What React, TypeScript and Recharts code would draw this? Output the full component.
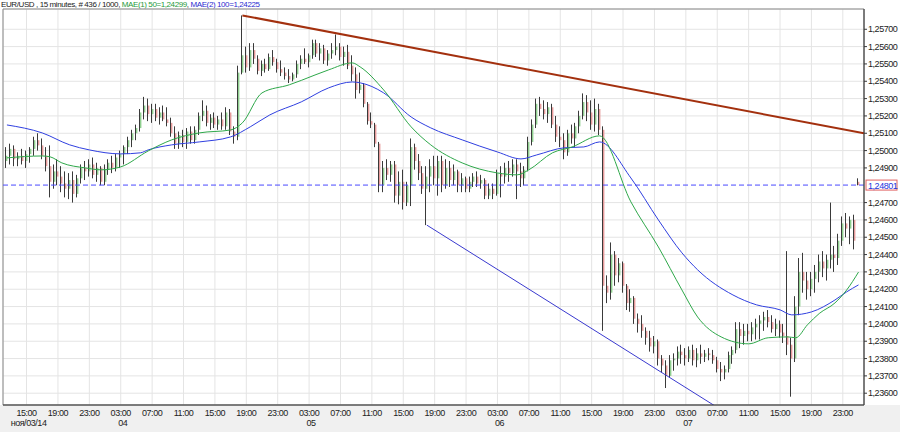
import React from "react"
import {
  ComposedChart,
  CartesianGrid,
  XAxis,
  YAxis,
  Bar,
  Line,
  ReferenceLine,
  ReferenceArea,
} from "recharts"

// bars are 30-min OHLC, t = hours since 03 Nov 00:00
type OHLC = [number, number, number, number]

const FIRST_T = 12.5
const STEP = 0.5

const nov03: OHLC[] = [
  [1.2494, 1.2502, 1.249, 1.2497], [1.2497, 1.2504, 1.2492, 1.2501], [1.2501, 1.2503, 1.2491, 1.2495],
  [1.2495, 1.2499, 1.2491, 1.2497], [1.2497, 1.2501, 1.2492, 1.2494], [1.2494, 1.25, 1.249, 1.2498],
  [1.2498, 1.2502, 1.2493, 1.2501], [1.2501, 1.2508, 1.2497, 1.2506], [1.2506, 1.251, 1.25, 1.2503],
  [1.2503, 1.2507, 1.2495, 1.2497], [1.2497, 1.2502, 1.2488, 1.2491], [1.2491, 1.2503, 1.2473, 1.2482],
  [1.2482, 1.2492, 1.2478, 1.2488], [1.2488, 1.2495, 1.248, 1.2485], [1.2485, 1.2491, 1.2476, 1.2481],
  [1.2481, 1.2488, 1.2473, 1.2478], [1.2478, 1.2487, 1.2472, 1.2483], [1.2483, 1.2488, 1.247, 1.2475],
  [1.2475, 1.2486, 1.2473, 1.2484], [1.2484, 1.2492, 1.2481, 1.249], [1.249, 1.2494, 1.2483, 1.2488],
  [1.2488, 1.2495, 1.2485, 1.2492], [1.2492, 1.2496, 1.2484, 1.2486],
]

const nov04: OHLC[] = [
  [1.2486, 1.2493, 1.2482, 1.249], [1.249, 1.2491, 1.248, 1.2482], [1.2482, 1.2492, 1.248, 1.2489],
  [1.2489, 1.2495, 1.2486, 1.2493], [1.2493, 1.2497, 1.2487, 1.249], [1.249, 1.2498, 1.2488, 1.2496],
  [1.2496, 1.25, 1.249, 1.2498], [1.2498, 1.2503, 1.2492, 1.2502], [1.2502, 1.2508, 1.2498, 1.2506],
  [1.2506, 1.2512, 1.2502, 1.251], [1.251, 1.2515, 1.2506, 1.2513], [1.2513, 1.2524, 1.2511, 1.2522],
  [1.2522, 1.2531, 1.2518, 1.2526], [1.2526, 1.253, 1.2517, 1.2521], [1.2521, 1.2527, 1.2516, 1.2524],
  [1.2524, 1.2527, 1.2517, 1.2519], [1.2519, 1.2525, 1.2515, 1.2522], [1.2522, 1.2526, 1.2517, 1.2518],
  [1.2518, 1.2525, 1.2514, 1.2516], [1.2516, 1.2519, 1.2508, 1.251], [1.251, 1.2514, 1.2501, 1.2504],
  [1.2504, 1.2511, 1.2501, 1.2509], [1.2509, 1.2512, 1.2502, 1.2505], [1.2505, 1.2513, 1.2501, 1.2511],
  [1.2511, 1.2514, 1.2504, 1.2506], [1.2506, 1.2514, 1.2504, 1.2512], [1.2512, 1.2522, 1.2509, 1.252],
  [1.252, 1.2529, 1.2517, 1.2523], [1.2523, 1.2526, 1.2514, 1.2516], [1.2516, 1.2521, 1.2512, 1.2519],
  [1.2519, 1.2522, 1.2513, 1.2515], [1.2515, 1.252, 1.2512, 1.2518], [1.2518, 1.2522, 1.2512, 1.2514],
  [1.2514, 1.2525, 1.2512, 1.2522], [1.2522, 1.2524, 1.2509, 1.2511], [1.2511, 1.2514, 1.2504, 1.2508],
  [1.2508, 1.2549, 1.2506, 1.2545], [1.2545, 1.2578, 1.2544, 1.2555], [1.2555, 1.256, 1.2545, 1.2548],
  [1.2548, 1.2562, 1.2546, 1.2558], [1.2558, 1.2562, 1.255, 1.2553], [1.2553, 1.2555, 1.2544, 1.2546],
  [1.2546, 1.2552, 1.2543, 1.255], [1.255, 1.2553, 1.2545, 1.2547], [1.2547, 1.2556, 1.2546, 1.2554],
  [1.2554, 1.2558, 1.2549, 1.2551], [1.2551, 1.2553, 1.2545, 1.2547], [1.2547, 1.2552, 1.2543, 1.2545],
]

const nov05: OHLC[] = [
  [1.2545, 1.2548, 1.2541, 1.2543], [1.2543, 1.2547, 1.2539, 1.2541], [1.2541, 1.2545, 1.254, 1.2544],
  [1.2544, 1.2552, 1.2542, 1.255], [1.255, 1.2555, 1.2547, 1.2553], [1.2553, 1.2559, 1.255, 1.2551],
  [1.2551, 1.2556, 1.2548, 1.2555], [1.2555, 1.2564, 1.2553, 1.2562], [1.2562, 1.2564, 1.2554, 1.2556],
  [1.2556, 1.2562, 1.2552, 1.2559], [1.2559, 1.2561, 1.255, 1.2552], [1.2552, 1.2558, 1.2549, 1.2556],
  [1.2556, 1.2562, 1.2553, 1.2558], [1.2558, 1.2567, 1.2555, 1.256], [1.256, 1.2562, 1.2552, 1.2554],
  [1.2554, 1.256, 1.2549, 1.2557], [1.2557, 1.2561, 1.2547, 1.2549], [1.2549, 1.2555, 1.254, 1.2544],
  [1.2544, 1.2548, 1.253, 1.2535], [1.2535, 1.2545, 1.2533, 1.2538], [1.2538, 1.2539, 1.2525, 1.2527],
  [1.2527, 1.2528, 1.2515, 1.2517], [1.2517, 1.2522, 1.2513, 1.2515], [1.2515, 1.2516, 1.2502, 1.2504],
  [1.2504, 1.2505, 1.2476, 1.248], [1.248, 1.2494, 1.2476, 1.249], [1.249, 1.2495, 1.2483, 1.2486],
  [1.2486, 1.2494, 1.2482, 1.2492], [1.2492, 1.2494, 1.247, 1.2474], [1.2474, 1.2488, 1.2469, 1.2482],
  [1.2482, 1.2489, 1.2466, 1.247], [1.247, 1.2482, 1.2468, 1.248], [1.248, 1.2507, 1.2468, 1.2502],
  [1.2502, 1.2504, 1.2489, 1.2494], [1.2494, 1.2498, 1.2483, 1.2487], [1.2487, 1.2491, 1.2475, 1.2478],
  [1.2478, 1.2491, 1.2457, 1.2485], [1.2485, 1.2495, 1.2476, 1.2491], [1.2491, 1.2497, 1.248, 1.2484],
  [1.2484, 1.2497, 1.2474, 1.2494], [1.2494, 1.2497, 1.2476, 1.248], [1.248, 1.2495, 1.2478, 1.249],
  [1.249, 1.2494, 1.2479, 1.2483], [1.2483, 1.2492, 1.248, 1.2488], [1.2488, 1.2489, 1.2476, 1.248],
  [1.248, 1.2487, 1.2476, 1.2484], [1.2484, 1.2485, 1.2476, 1.2478], [1.2478, 1.2485, 1.2476, 1.2482],
]

const nov06: OHLC[] = [
  [1.2482, 1.2487, 1.2479, 1.2485], [1.2485, 1.2488, 1.2479, 1.2481], [1.2481, 1.2486, 1.2478, 1.2483],
  [1.2483, 1.2484, 1.2472, 1.2474], [1.2474, 1.2481, 1.2472, 1.2478], [1.2478, 1.2481, 1.2472, 1.2475],
  [1.2475, 1.2489, 1.2474, 1.2487], [1.2487, 1.2491, 1.2473, 1.2485], [1.2485, 1.2493, 1.2481, 1.249],
  [1.249, 1.2494, 1.2482, 1.2487], [1.2487, 1.2495, 1.2485, 1.2492], [1.2492, 1.2495, 1.2472, 1.2488],
  [1.2488, 1.2493, 1.2479, 1.2484], [1.2484, 1.2491, 1.248, 1.2489], [1.2489, 1.2508, 1.2488, 1.2505],
  [1.2505, 1.2518, 1.2503, 1.2515], [1.2515, 1.253, 1.2513, 1.2527], [1.2527, 1.2531, 1.252, 1.2524],
  [1.2524, 1.2529, 1.2518, 1.2521], [1.2521, 1.2528, 1.2516, 1.2525], [1.2525, 1.2527, 1.2513, 1.2515],
  [1.2515, 1.252, 1.2505, 1.2508], [1.2508, 1.2514, 1.2502, 1.2506], [1.2506, 1.251, 1.2495, 1.2499],
  [1.2499, 1.2512, 1.2497, 1.251], [1.251, 1.2515, 1.2504, 1.2507], [1.2507, 1.2516, 1.2502, 1.2514],
  [1.2514, 1.2523, 1.251, 1.252], [1.252, 1.2533, 1.2518, 1.2528], [1.2528, 1.2532, 1.2517, 1.2522],
  [1.2522, 1.2529, 1.2512, 1.2515], [1.2515, 1.253, 1.2511, 1.2524], [1.2524, 1.2527, 1.2509, 1.2512],
  [1.2512, 1.2514, 1.2396, 1.2422], [1.2422, 1.2428, 1.2412, 1.2418], [1.2418, 1.2447, 1.2414, 1.244],
  [1.244, 1.2442, 1.2422, 1.2428], [1.2428, 1.2438, 1.2424, 1.2435], [1.2435, 1.2436, 1.2418, 1.2422],
  [1.2422, 1.2423, 1.2408, 1.2412], [1.2412, 1.242, 1.2407, 1.2415], [1.2415, 1.2416, 1.24, 1.2403],
  [1.2403, 1.2406, 1.2395, 1.24], [1.24, 1.2405, 1.2392, 1.2396], [1.2396, 1.2398, 1.2388, 1.2392],
  [1.2392, 1.2396, 1.2384, 1.2387], [1.2387, 1.2393, 1.2383, 1.239], [1.239, 1.2391, 1.2376, 1.238],
]

const nov07: OHLC[] = [
  [1.238, 1.2382, 1.2372, 1.2376], [1.2376, 1.2379, 1.2363, 1.237], [1.237, 1.2382, 1.2369, 1.2379],
  [1.2379, 1.2383, 1.2373, 1.238], [1.238, 1.2387, 1.2376, 1.2384], [1.2384, 1.2388, 1.2377, 1.2382],
  [1.2382, 1.2386, 1.2376, 1.238], [1.238, 1.2387, 1.2378, 1.2385], [1.2385, 1.2388, 1.2376, 1.2379],
  [1.2379, 1.2386, 1.2375, 1.2383], [1.2383, 1.2388, 1.2377, 1.2381], [1.2381, 1.2385, 1.2378, 1.2383],
  [1.2383, 1.2386, 1.2379, 1.2382], [1.2382, 1.2385, 1.2377, 1.2379], [1.2379, 1.2381, 1.2372, 1.2374],
  [1.2374, 1.2378, 1.2367, 1.2372], [1.2372, 1.2376, 1.2368, 1.2374], [1.2374, 1.2384, 1.2372, 1.2382],
  [1.2382, 1.2387, 1.2377, 1.2385], [1.2385, 1.2401, 1.2383, 1.2397], [1.2397, 1.2401, 1.2386, 1.2393],
  [1.2393, 1.24, 1.2388, 1.2396], [1.2396, 1.24, 1.239, 1.2394], [1.2394, 1.2401, 1.239, 1.2398],
  [1.2398, 1.2403, 1.2391, 1.24], [1.24, 1.2405, 1.2391, 1.2402], [1.2402, 1.2407, 1.2396, 1.2404],
  [1.2404, 1.2408, 1.2398, 1.2401], [1.2401, 1.2405, 1.2395, 1.2397], [1.2397, 1.2403, 1.2393, 1.24],
  [1.24, 1.2402, 1.2392, 1.2395], [1.2395, 1.24, 1.2389, 1.2393], [1.2393, 1.2442, 1.2382, 1.2388],
  [1.2388, 1.2392, 1.2358, 1.238], [1.238, 1.2416, 1.2378, 1.241], [1.241, 1.2438, 1.2405, 1.243],
  [1.243, 1.2441, 1.2418, 1.2425], [1.2425, 1.243, 1.2414, 1.242], [1.242, 1.243, 1.2416, 1.2426],
  [1.2426, 1.2434, 1.2418, 1.243], [1.243, 1.244, 1.2424, 1.2436], [1.2436, 1.2442, 1.2427, 1.2432],
  [1.2432, 1.244, 1.2425, 1.2437], [1.2437, 1.247, 1.2432, 1.244], [1.244, 1.2445, 1.243, 1.2438],
  [1.2438, 1.2452, 1.2434, 1.2448], [1.2448, 1.2462, 1.2445, 1.2458], [1.2458, 1.2464, 1.245, 1.2455],
]

const nov08: OHLC[] = [
  [1.2455, 1.2462, 1.2446, 1.246], [1.246, 1.2463, 1.2443, 1.2448], [1.2482, 1.2484, 1.248, 1.24801],
]

// moving averages: [bar index, value]
const mae50: [number, number][] = [
  [0, 1.24958], [9, 1.24969], [11, 1.24964], [14, 1.24929], [20, 1.249], [24, 1.24889],
  [29, 1.24906], [36, 1.24998], [42, 1.25062], [49, 1.25102], [57, 1.25119], [60, 1.2516],
  [65, 1.25333], [72, 1.2538], [75, 1.25405], [82, 1.25466], [88, 1.25506], [90, 1.25483],
  [96, 1.2535], [103, 1.25137], [108, 1.25033], [116, 1.24929], [125, 1.24871], [130, 1.2486],
  [133, 1.24889], [139, 1.24987], [144, 1.25021], [151, 1.25085], [159, 1.24704], [166, 1.24444],
  [172, 1.24196], [176, 1.2404], [182, 1.23925], [189, 1.23885], [194, 1.2392], [199, 1.23925],
  [201, 1.2392], [204, 1.23995], [207, 1.2406], [211, 1.24121], [214, 1.24196], [217, 1.24299],
]

const mae100: [number, number][] = [
  [0, 1.25148], [9, 1.25102], [16, 1.25033], [21, 1.25004], [29, 1.24981], [34, 1.24987],
  [36, 1.25004], [42, 1.25033], [49, 1.2505], [57, 1.25079], [62, 1.25137], [67, 1.25206],
  [75, 1.25281], [82, 1.25362], [88, 1.25396], [90, 1.25391], [96, 1.25333], [103, 1.25194],
  [108, 1.25131], [116, 1.25062], [125, 1.24992], [131, 1.24952], [135, 1.24975], [142, 1.25016],
  [147, 1.25021], [151, 1.2505], [159, 1.24842], [166, 1.246], [172, 1.2441], [176, 1.24312],
  [185, 1.24167], [191, 1.2411], [197, 1.24081], [200, 1.24052], [205, 1.24069], [211, 1.24138],
  [214, 1.24185], [217, 1.24225],
]

// trend lines [t, price]
const resistance: [number, number][] = [[42.5, 1.2578], [121.7, 1.251]]
const support: [number, number][] = [[66, 1.2457], [104, 1.2349]]
const lastPrice = 1.24801

const xTicks = [15, 19, 23, 27, 31, 35, 39, 43, 47, 51, 55, 59, 63, 67, 71, 75, 79, 83, 87, 91, 95, 99, 103, 107, 111, 115, 119]
const dayLabels: Record<number, string> = { 15: "ноя/03/14", 27: "04", 51: "05", 75: "06", 99: "07" }
const yTicks = [
  1.236, 1.237, 1.238, 1.239, 1.24, 1.241, 1.242, 1.243, 1.244, 1.245, 1.246, 1.247,
  1.249, 1.25, 1.251, 1.252, 1.253, 1.254, 1.255, 1.256, 1.257,
]

const X_DOMAIN: [number, number] = [12, 121.7]
const Y_DOMAIN: [number, number] = [1.23532, 1.25817]
const FONT = "Tahoma, 'Liberation Sans', Arial, sans-serif"
const TIGHT = -0.45

type Row = {
  t: number
  range: [number, number]
  o: number
  h: number
  l: number
  c: number
  ma50: number | null
  ma100: number | null
}

const bars = [...nov03, ...nov04, ...nov05, ...nov06, ...nov07, ...nov08]
const rows: Row[] = bars.map(([o, h, l, c], i) => ({
  t: FIRST_T + i * STEP,
  range: [l, h],
  o, h, l, c,
  ma50: null,
  ma100: null,
}))
mae50.forEach(([i, v]) => (rows[i].ma50 = v))
mae100.forEach(([i, v]) => (rows[i].ma100 = v))

const fmtPrice = (v: number) => v.toFixed(5).replace(".", ",")

const Candle = (props: any) => {
  const { x, y, width, height, payload } = props
  if (!payload || y == null) return null
  const { o, h, l, c } = payload as Row
  const span = h - l || 1e-9
  const py = (v: number) => y + ((h - v) / span) * height
  const cx = Math.round(x + width / 2)
  const top = py(Math.max(o, c))
  const bot = py(Math.min(o, c))
  const up = c >= o
  return (
    <g>
      <rect x={cx - 1} y={y} width={1} height={Math.max(1, height)} fill="#3a3a3a" />
      <rect x={cx} y={top} width={1.4} height={Math.max(1, bot - top)} fill={up ? "#8fcf8f" : "#e79a9a"} />
    </g>
  )
}

const TimeTick = (props: any) => {
  const { x, y, payload } = props
  const t = payload.value as number
  const hh = String(t % 24).padStart(2, "0")
  const day = dayLabels[t]
  return (
    <g fontFamily={FONT} fontSize={9} fill="#222" letterSpacing={TIGHT}>
      <text x={x} y={y} dy={7} textAnchor="middle">{`${hh}:00`}</text>
      {day && (
        <text x={x + 2} y={y} dy={17} textAnchor="middle">{day}</text>
      )}
    </g>
  )
}

const PriceTick = (props: any) => {
  const { x, y, payload } = props
  return (
    <text x={x} y={y} dy={3} fontFamily={FONT} fontSize={9} fill="#222" letterSpacing={TIGHT}>
      {fmtPrice(payload.value)}
    </text>
  )
}

const PriceTag = (props: any) => {
  const vb = props.viewBox || {}
  const left = vb.x + vb.width + 2
  return (
    <g>
      <rect x={left} y={vb.y - 5} width={31} height={10} fill="#fff" stroke="#e06060" strokeWidth={1} />
      <text x={left + 2} y={vb.y + 3.5} fontFamily={FONT} fontSize={9} letterSpacing={TIGHT} fill="#2233dd">
        {fmtPrice(lastPrice)}
      </text>
    </g>
  )
}

export default function App() {
  return (
    <div
      style={{
        position: "absolute",
        left: 0,
        top: 0,
        width: 900,
        height: 432,
        background: "linear-gradient(#ffffff 0 405px, #f0f0f0 405px)",
        fontFamily: FONT,
      }}
    >
      <div
        style={{
          position: "absolute",
          left: 1,
          top: 0,
          fontSize: 8,
          lineHeight: "9px",
          letterSpacing: -0.4,
          color: "#222",
          whiteSpace: "nowrap",
        }}
      >
        EUR/USD , 15 minutes, # 436 / 1000,{" "}
        <span style={{ color: "#1f9a3a" }}>MAE(1) 50=1,24299</span>,{" "}
        <span style={{ color: "#2b2bd0" }}>MAE(2) 100=1,24225</span>
      </div>
      <ComposedChart
        width={900}
        height={432}
        data={rows}
        margin={{ top: 9, right: 0, bottom: 0, left: 3 }}
      >
        <CartesianGrid stroke="#e4e4e4" />
        <XAxis
          type="number"
          dataKey="t"
          domain={X_DOMAIN}
          ticks={xTicks}
          interval={0}
          allowDataOverflow
          height={27}
          axisLine={{ stroke: "#3a3a3a" }}
          tickLine={false}
          tickSize={0}
          tickMargin={4}
          tick={<TimeTick />}
        />
        <YAxis
          orientation="right"
          domain={Y_DOMAIN}
          ticks={yTicks}
          interval={0}
          allowDataOverflow
          width={36}
          axisLine={{ stroke: "#3a3a3a" }}
          tickLine={{ stroke: "#3a3a3a" }}
          tickSize={3}
          tickMargin={1}
          tick={<PriceTick />}
        />
        <ReferenceArea
          x1={X_DOMAIN[0]}
          x2={X_DOMAIN[1]}
          y1={Y_DOMAIN[0]}
          y2={Y_DOMAIN[1]}
          fill="none"
          stroke="#8a8a8a"
          ifOverflow="visible"
        />
        <ReferenceLine
          y={lastPrice}
          stroke="#4a4aff"
          strokeDasharray="5 3"
          label={<PriceTag />}
        />
        <Bar dataKey="range" barSize={3} shape={<Candle />} isAnimationActive={false} />
        <Line
          dataKey="ma100"
          type="monotone"
          stroke="#2f3fe0"
          strokeWidth={1}
          dot={false}
          connectNulls
          isAnimationActive={false}
        />
        <Line
          dataKey="ma50"
          type="monotone"
          stroke="#2ea84a"
          strokeWidth={1}
          dot={false}
          connectNulls
          isAnimationActive={false}
        />
        <ReferenceLine
          segment={resistance.map(([x, y]) => ({ x, y }))}
          stroke="#a3300e"
          strokeWidth={2}
          ifOverflow="hidden"
        />
        <ReferenceLine
          segment={support.map(([x, y]) => ({ x, y }))}
          stroke="#3a3acf"
          strokeWidth={1}
          ifOverflow="hidden"
        />
      </ComposedChart>
    </div>
  )
}
